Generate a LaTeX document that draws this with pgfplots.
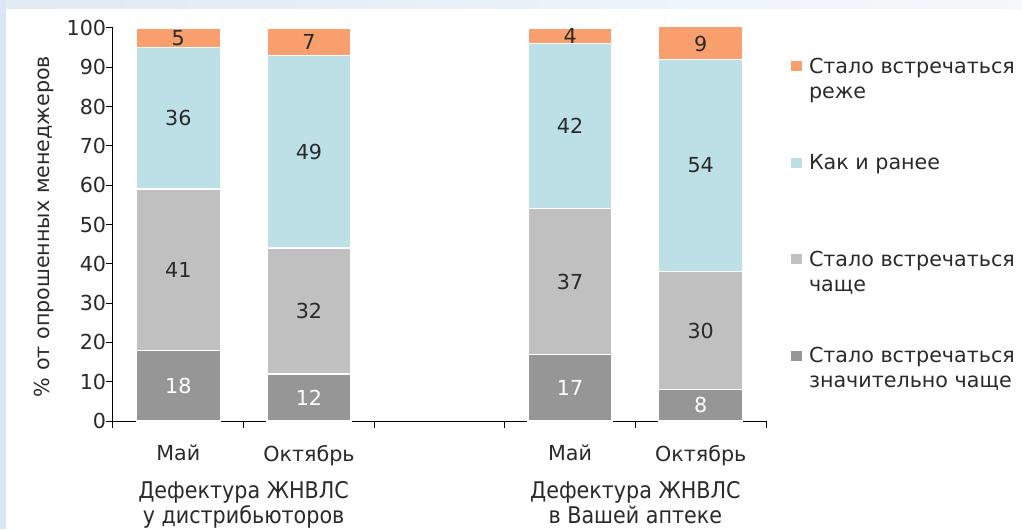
\documentclass[border=0pt]{standalone}
\usepackage{fontspec}
\setmainfont{DejaVu Sans}
\newfontfamily\condfont{DejaVu Sans Condensed}
\usepackage{pgfplots}
\pgfplotsset{compat=1.18}
\definecolor{cOrange}{HTML}{F89F6D}
\definecolor{cBlue}{HTML}{BDE0E6}
\definecolor{cLGrey}{HTML}{C0C0C0}
\definecolor{cDGrey}{HTML}{969696}
\definecolor{cBg}{HTML}{DAE6F1}
\definecolor{cText}{HTML}{2A2A2A}
\newcommand{\fs}{\fontsize{15.5}{18.75}\selectfont}
\newcommand{\sub}[1]{\rlap{\smash{\raisebox{-18.75pt}{#1}}}}
\begin{document}
\begin{tikzpicture}
\path[use as bounding box] (-84.75pt,315.75pt) rectangle (681.75pt,-81pt);
\fill[cBg] (-84.75pt,315.75pt) rectangle (681.75pt,-81pt);
\shade[left color=cBg!85!white, right color=cBg!25!white] (-80.25pt,315.75pt) rectangle (681.75pt,309pt);
\fill[white] (-80.25pt,309pt) rectangle (681.75pt,-81pt);
\begin{axis}[
  x=97.95pt, y=2.9475pt,
  xmin=-0.5, xmax=4.5, ymin=0, ymax=100,
  ybar stacked, bar width=0.643,
  axis lines=left, axis line style={-, line width=0.75pt, black},
  tick align=outside,
  major tick length=5pt,
  tick style={line width=0.75pt, black},
  xtick={-0.5,0.5,1.5,2.5,3.5,4.5}, xticklabels={},
  extra x ticks={0,1,3,4},
  extra x tick labels={Май,Октябрь,Май,Октябрь},
  extra x tick style={major tick length=0pt, tick label style={yshift=-18pt}},
  ytick={0,10,...,100},
  /pgf/number format/assume math mode=true,
  tick label style={font=\fs, text=cText, inner sep=0pt},
  yticklabel style={xshift=0pt},
  ylabel={\% от опрошенных менеджеров},
  every axis y label/.style={at={(axis description cs:-0.1057,0.495)}, rotate=90, anchor=center, font=\fs, text=cText},
  reverse legend,
  legend cell align=left,
  legend image code/.code={\fill[#1, draw=none] (0pt,-3.75pt) rectangle (8pt,3.75pt);},
  legend style={at={(1.0383,0.9245)}, anchor=north west, draw=none, fill=none, inner sep=0pt, outer sep=0pt, row sep=59.5pt, column sep=5.5pt, font=\fs, text=cText, nodes={inner sep=0pt, outer sep=0pt}},
]
\addplot[fill=cDGrey, draw=white, line width=1pt] coordinates {(0,18) (1,12) (3,17) (4,8)};
\addlegendentry{\sub{значительно чаще}Стало встречаться}
\addplot[fill=cLGrey, draw=white, line width=1pt] coordinates {(0,41) (1,32) (3,37) (4,30)};
\addlegendentry{\sub{чаще}Стало встречаться}
\addplot[fill=cBlue, draw=white, line width=1pt] coordinates {(0,36) (1,49) (3,42) (4,54)};
\addlegendentry{Как и ранее}
\addplot[fill=cOrange, draw=white, line width=1pt] coordinates {(0,5) (1,7) (3,4) (4,9)};
\addlegendentry{\sub{реже}Стало встречаться}
\end{axis}
\begin{axis}[
  x=97.95pt, y=2.9475pt, xmin=-0.5, xmax=4.5, ymin=0, ymax=100,
  hide axis, clip=false,
  nodes near coords, point meta=explicit symbolic,
  nodes near coords style={anchor=center, font=\fs, inner sep=0pt},
]
\addplot[draw=none, mark=none, nodes near coords style={text=cText}] table[meta=lab] {
x y lab
0 38.5 41
0 77 36
0 97.5 5
1 28 32
1 68.5 49
1 96.5 7
3 35.5 37
3 75 42
3 98 4
4 23 30
4 65 54
4 96 9
};
\addplot[draw=none, mark=none, nodes near coords style={text=white}] table[meta=lab] {
x y lab
0 9 18
1 6 12
3 8.5 17
4 4 8
};
\node[font=\condfont\fontsize{17.25}{18.75}\selectfont, text=cText, align=center, anchor=north, inner sep=0pt, yshift=-45pt] at (axis cs:0.5,0) {Дефектура ЖНВЛС\\у дистрибьюторов};
\node[font=\condfont\fontsize{17.25}{18.75}\selectfont, text=cText, align=center, anchor=north, inner sep=0pt, yshift=-45pt] at (axis cs:3.5,0) {Дефектура ЖНВЛС\\в Вашей аптеке};
\end{axis}
\end{tikzpicture}
\end{document}
